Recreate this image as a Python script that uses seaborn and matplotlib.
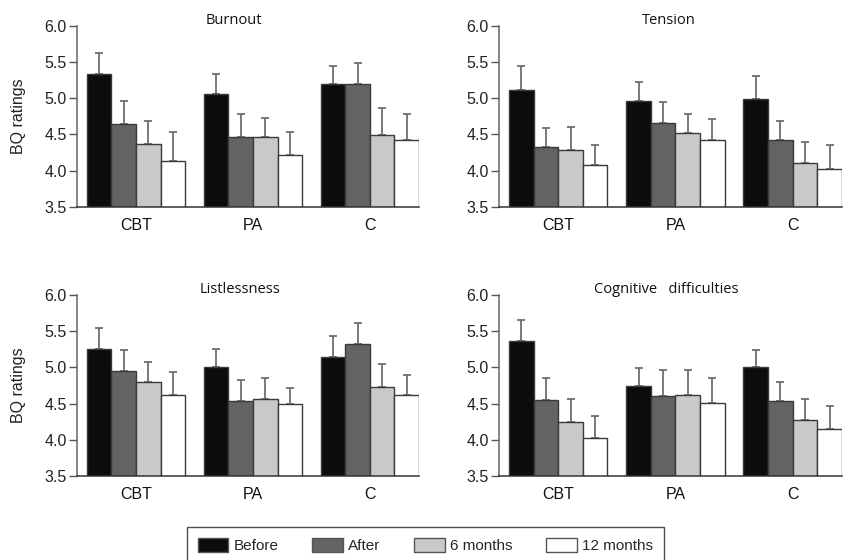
import numpy as np
import pandas as pd
import matplotlib
matplotlib.use("Agg")
import matplotlib.pyplot as plt
from matplotlib.patches import Patch
from matplotlib.container import BarContainer
import seaborn as sns

groups = ["CBT", "PA", "C"]
times = ["Before", "After", "6 months", "12 months"]
titles = ["Burnout", "Tension", "Listlessness", "Cognitive   difficulties"]

# means per group (rows: CBT, PA, C), columns: Before, After, 6 months, 12 months
burnout_mean = [[5.33, 4.65, 4.37, 4.13],
                [5.06, 4.46, 4.47, 4.22],
                [5.20, 5.20, 4.49, 4.42]]
burnout_err = [[0.30, 0.31, 0.32, 0.41],
               [0.28, 0.32, 0.26, 0.31],
               [0.24, 0.28, 0.37, 0.36]]

tension_mean = [[5.12, 4.33, 4.29, 4.08],
                [4.96, 4.66, 4.52, 4.43],
                [4.99, 4.42, 4.11, 4.02]]
tension_err = [[0.32, 0.26, 0.31, 0.28],
               [0.27, 0.29, 0.26, 0.29],
               [0.32, 0.27, 0.29, 0.34]]

listless_mean = [[5.25, 4.95, 4.80, 4.62],
                 [5.01, 4.54, 4.57, 4.50],
                 [5.15, 5.33, 4.73, 4.62]]
listless_err = [[0.30, 0.29, 0.27, 0.32],
                [0.25, 0.28, 0.28, 0.22],
                [0.28, 0.29, 0.32, 0.28]]

cognitive_mean = [[5.37, 4.55, 4.24, 4.02],
                  [4.75, 4.61, 4.62, 4.51],
                  [5.00, 4.54, 4.28, 4.15]]
cognitive_err = [[0.29, 0.30, 0.32, 0.31],
                 [0.24, 0.35, 0.34, 0.34],
                 [0.24, 0.26, 0.29, 0.32]]

panels = [(burnout_mean, burnout_err), (tension_mean, tension_err),
          (listless_mean, listless_err), (cognitive_mean, cognitive_err)]

colors = ["#0c0c0c", "#636363", "#c9c9c9", "#ffffff"]
edge = "#3a3a3a"

sns.set_style("ticks")
plt.rcParams["font.family"] = ["Liberation Sans", "DejaVu Sans"]

fig = plt.figure(figsize=(8.49, 5.6), dpi=100)
W, H = 849.0, 560.0
# axes boxes in pixels: left, top, right, bottom
boxes = [(77, 25.7, 419, 207), (499, 25.7, 842, 207),
         (77, 295, 419, 476), (499, 295, 842, 476)]
title_x = [0.459, 0.496, 0.477, 0.487]

for k, ((mean, err), box) in enumerate(zip(panels, boxes)):
    l, t, r, b = box
    ax = fig.add_axes([l / W, 1 - b / H, (r - l) / W, (b - t) / H])
    df = pd.DataFrame([(g, tm, mean[i][j]) for i, g in enumerate(groups)
                       for j, tm in enumerate(times)],
                      columns=["group", "time", "value"])
    sns.barplot(data=df, x="group", y="value", hue="time", order=groups,
                hue_order=times, palette=colors, width=0.84, errorbar=None,
                edgecolor=edge, linewidth=1.0, legend=False, ax=ax, zorder=2)
    bar_sets = [c for c in ax.containers if isinstance(c, BarContainer)]
    for j, cont in enumerate(bar_sets):
        xs = [p.get_x() + p.get_width() / 2 for p in cont]
        ys = [p.get_height() for p in cont]
        ups = [err[i][j] for i in range(len(groups))]
        ax.errorbar(xs, ys, yerr=[np.zeros(len(ups)), ups], fmt="none",
                    ecolor="#6e6e6e", elinewidth=1.3, capsize=3.2,
                    capthick=1.3, zorder=1)
    ax.set_ylim(3.5, 6.0)
    ax.set_xlim(-0.505, 2.42)
    ax.set_yticks(np.arange(3.5, 6.01, 0.5))
    ax.set_yticklabels([f"{v:.1f}" for v in np.arange(3.5, 6.01, 0.5)])
    ax.tick_params(axis="y", length=6, width=1.0, color="#555555",
                   labelsize=11.5, pad=1.5, labelcolor="#222222")
    ax.tick_params(axis="x", length=0, labelsize=11.5, pad=8,
                   labelcolor="#111111")
    ax.set_xlabel("")
    if k % 2 == 0:
        ax.set_ylabel("BQ ratings", fontsize=11.5, color="#222222", labelpad=13)
    else:
        ax.set_ylabel("")
    sns.despine(ax=ax)
    ax.spines["left"].set_color("#666666")
    ax.spines["left"].set_linewidth(1.1)
    ax.spines["bottom"].set_color("#333333")
    ax.spines["bottom"].set_linewidth(1.1)
    ax.text(title_x[k], 1.012, titles[k], transform=ax.transAxes,
            ha="center", va="baseline", fontsize=10.5, color="#111111",
            family=["Open Sans", "DejaVu Sans"])

handles = [Patch(facecolor=c, edgecolor="#555555", linewidth=1.0) for c in colors]
leg = fig.legend(handles, times, loc="upper left",
                 bbox_to_anchor=(187 / W, 1 - 527 / H), ncol=4,
                 frameon=True, fancybox=False, fontsize=11,
                 handlelength=2.0, handleheight=1.1, handletextpad=0.35,
                 columnspacing=2.2, borderpad=0.7, borderaxespad=0)
leg.get_frame().set_edgecolor("#222222")
leg.get_frame().set_linewidth(1.0)

fig.savefig("out.png", dpi=100)
